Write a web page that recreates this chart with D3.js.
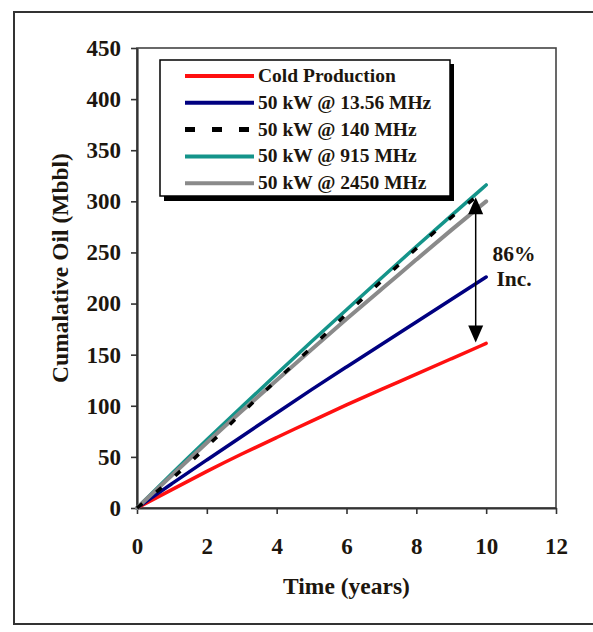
<!DOCTYPE html>
<html><head><meta charset="utf-8">
<script src="https://cdn.jsdelivr.net/npm/d3@7"></script>
<style>html,body{margin:0;padding:0;background:#fff;}svg{display:block;}</style>
</head><body>
<svg id="chart" width="593" height="632"></svg>
<script>
const years = [0,1,2,3,4,5,6,7,8,9,10];
const coldProduction = [0,18,36,53,69,85,101,116,131,146,161];
const mhz13_56 = [0,24,47,70,93,116,138,160,182,204,226];
const mhz140 = [0,28,60,93,125,157,190,222,254,285,312];
const mhz915 = [0,34,67,99,131,163,194,225,256,286,316];
const mhz2450 = [0,32,64,95,125,155,185,214,243,272,300];
const seriesNames = ["Cold Production","50 kW @ 13.56 MHz","50 kW @ 140 MHz","50 kW @ 915 MHz","50 kW @ 2450 MHz"];
const xTicks = [0,2,4,6,8,10,12];
const yTicks = [0,50,100,150,200,250,300,350,400,450];
const annotation = ["86%","Inc."];

const FONT = "'Liberation Serif','Times New Roman',serif";
const TXT = "#1c160e";
const series = [
  {name: seriesNames[0], values: coldProduction, color: "#ff1010", dash: null, w: 3.5},
  {name: seriesNames[1], values: mhz13_56, color: "#000080", dash: null, w: 3.5},
  {name: seriesNames[3], values: mhz915, color: "#14948a", dash: null, w: 3.5},
  {name: seriesNames[4], values: mhz2450, color: "#8a8a8a", dash: null, w: 4},
  {name: seriesNames[2], values: mhz140, color: "#000000", dash: "7,18", w: 3.5}
];

const svg = d3.select("#chart");
const x = d3.scaleLinear().domain([0,12]).range([137,556]);
const y = d3.scaleLinear().domain([0,450]).range([508,48]);

// outer frame
svg.append("rect").attr("x",14).attr("y",12).attr("width",600).attr("height",612)
  .attr("fill","none").attr("stroke","#333").attr("stroke-width",2);

// plot box
svg.append("rect").attr("x",x(0)).attr("y",y(450)).attr("width",x(12)-x(0)).attr("height",y(0)-y(450))
  .attr("fill","none").attr("stroke","#444").attr("stroke-width",1.6);

// axes
const yAxis = svg.append("g").attr("transform",`translate(${x(0)},0)`)
  .call(d3.axisLeft(y).tickValues(yTicks).tickSize(6).tickPadding(10).tickSizeOuter(0));
const xAxis = svg.append("g").attr("transform",`translate(0,${y(0)})`)
  .call(d3.axisBottom(x).tickValues(xTicks).tickSize(6).tickPadding(24).tickSizeOuter(0));
[yAxis,xAxis].forEach(g=>{
  g.select(".domain").attr("stroke","#333").attr("stroke-width",2.2);
  g.selectAll(".tick line").attr("stroke","#333").attr("stroke-width",1.6);
  g.selectAll(".tick text").attr("fill",TXT).attr("font-family",FONT)
    .attr("font-weight","bold").attr("font-size","23px");
});

// axis titles
svg.append("text").attr("x",(x(0)+x(12))/2).attr("y",594).attr("text-anchor","middle")
  .attr("font-family",FONT).attr("font-weight","bold").attr("font-size","23.5px").attr("fill",TXT)
  .text("Time (years)");
svg.append("text").attr("transform","translate(68,268) rotate(-90)").attr("text-anchor","middle")
  .attr("font-family",FONT).attr("font-weight","bold").attr("font-size","23.5px").attr("fill",TXT)
  .text("Cumalative Oil (Mbbl)");

// lines
const line = d3.line().x((d,i)=>x(years[i])).y(d=>y(d)).curve(d3.curveBasis);
series.forEach(s=>{
  svg.append("path").datum(s.values).attr("d",line).attr("fill","none")
    .attr("stroke",s.color).attr("stroke-width",s.w)
    .attr("stroke-dasharray",s.dash).attr("stroke-linecap",s.dash?"butt":"round");
});

// arrow annotation
const ax = x(9.7);
const yTop = y(304), yBot = y(162);
const ah = 17, aw = 7.5;
svg.append("line").attr("x1",ax).attr("x2",ax).attr("y1",yTop+ah-2).attr("y2",yBot-ah+2)
  .attr("stroke","#000").attr("stroke-width",1.5);
svg.append("path").attr("d",`M${ax},${yTop} L${ax-aw},${yTop+ah} L${ax+aw},${yTop+ah} Z`).attr("fill","#000");
svg.append("path").attr("d",`M${ax},${yBot} L${ax-aw},${yBot-ah} L${ax+aw},${yBot-ah} Z`).attr("fill","#000");
annotation.forEach((t,i)=>{
  svg.append("text").attr("x",x(10.8)).attr("y",261+i*25).attr("text-anchor","middle")
    .attr("font-family",FONT).attr("font-weight","bold").attr("font-size","21.5px").attr("fill",TXT).text(t);
});

// legend
const lg = svg.append("g");
lg.append("rect").attr("x",164).attr("y",64).attr("width",290).attr("height",137).attr("fill","#000");
lg.append("rect").attr("x",160).attr("y",60).attr("width",290).attr("height",136)
  .attr("fill","#fff").attr("stroke","#000").attr("stroke-width",1.5);
seriesNames.forEach((nm,i)=>{
  const s = series.find(d=>d.name===nm);
  const ly = 76 + i*26.8;
  lg.append("line").attr("x1",185).attr("x2",254).attr("y1",ly).attr("y2",ly)
    .attr("stroke",s.color).attr("stroke-width",s.dash?5:4).attr("stroke-dasharray",s.dash?"10,17":null);
  lg.append("text").attr("x",258).attr("y",ly+6).attr("font-family",FONT).attr("font-weight","bold")
    .attr("font-size","19.5px").attr("fill",TXT).text(nm);
});
</script>
</body></html>
